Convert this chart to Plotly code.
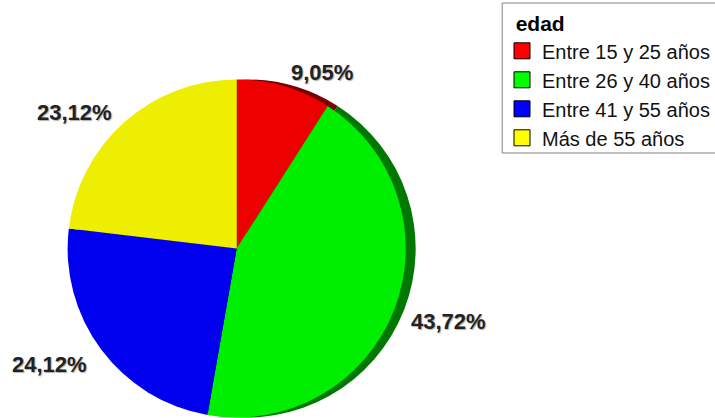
import plotly.graph_objects as go

# ---- data ----
categories = ["Entre 15 y 25 años", "Entre 26 y 40 años", "Entre 41 y 55 años", "Más de 55 años"]
values = [9.05, 43.72, 24.12, 23.12]
value_labels = ["9,05%", "43,72%", "24,12%", "23,12%"]
legend_title = "edad"

# ---- styles ----
face_colors = ["#EE0000", "#00EE00", "#0000EE", "#EEEE00"]
legend_colors = ["#FF0000", "#00FF00", "#0000FF", "#FFFF00"]
rim_colors = ["#780000", "#007800", "#000078", "#787800"]
W, H = 715, 418
# pie placement in pixels (left, right, top, bottom)
pie_l, pie_r, pie_t, pie_b = 68, 408, 79, 418
rim_dx = 10
# label centres in pixels
label_px = [(324, 72), (451, 321), (50, 364), (75, 112)]
FONT = "Liberation Sans, Arial, sans-serif"

fig = go.Figure()

# dark rim (offset pie behind)
fig.add_trace(go.Pie(
    labels=[c + " " for c in categories],
    values=values,
    sort=False,
    direction="clockwise",
    rotation=0,
    marker=dict(colors=rim_colors, line=dict(width=0)),
    textinfo="none",
    hoverinfo="skip",
    showlegend=False,
    domain=dict(x=[(pie_l + rim_dx) / W, (pie_r + rim_dx) / W], y=[0, (pie_b - pie_t) / H]),
))

# main pie face
fig.add_trace(go.Pie(
    labels=categories,
    values=values,
    sort=False,
    direction="clockwise",
    rotation=0,
    marker=dict(colors=face_colors, line=dict(width=0)),
    textinfo="none",
    showlegend=False,
    domain=dict(x=[pie_l / W, pie_r / W], y=[0, (pie_b - pie_t) / H]),
))

# legend entries (square swatches)
for cat, col in zip(categories, legend_colors):
    fig.add_trace(go.Scatter(
        x=[None], y=[None], mode="markers", name=cat,
        marker=dict(symbol="square", size=16, color=col, line=dict(color="#000000", width=1)),
        hoverinfo="skip",
    ))

annotations = []
for txt, (px, py) in zip(value_labels, label_px):
    annotations.append(dict(
        x=px / W, y=1 - py / H, xref="paper", yref="paper",
        text=txt, showarrow=False, xanchor="center", yanchor="middle",
        font=dict(family=FONT, size=22, color="#222222",
                  weight="bold", shadow="1px 1px 1px #b0b0b0"),
    ))

# legend frame (extends past the right edge, as in the reference)
shapes = [dict(
    type="rect", xref="paper", yref="paper",
    x0=505 / W, x1=1.05, y0=1 - 153 / H, y1=1 - 3 / H,
    line=dict(color="#808080", width=1), fillcolor="rgba(0,0,0,0)", layer="below",
)]

fig.update_layout(
    width=W, height=H,
    margin=dict(l=0, r=0, t=0, b=0),
    paper_bgcolor="white",
    plot_bgcolor="white",
    xaxis=dict(visible=False),
    yaxis=dict(visible=False),
    annotations=annotations,
    shapes=shapes,
    legend=dict(
        x=505 / W, y=1 - 4 / H, xanchor="left", yanchor="top",
        borderwidth=0, bgcolor="rgba(0,0,0,0)",
        itemsizing="trace",
        font=dict(family=FONT, size=20, color="#111111"),
        title=dict(text="&nbsp;&nbsp;<b>" + legend_title + "</b>",
                   font=dict(family=FONT, size=21, color="#000000")),
        traceorder="normal",
    ),
)

fig.write_html("out.html", config={"displayModeBar": False},
               post_script="document.body.style.margin='0';document.body.style.overflow='hidden';")
